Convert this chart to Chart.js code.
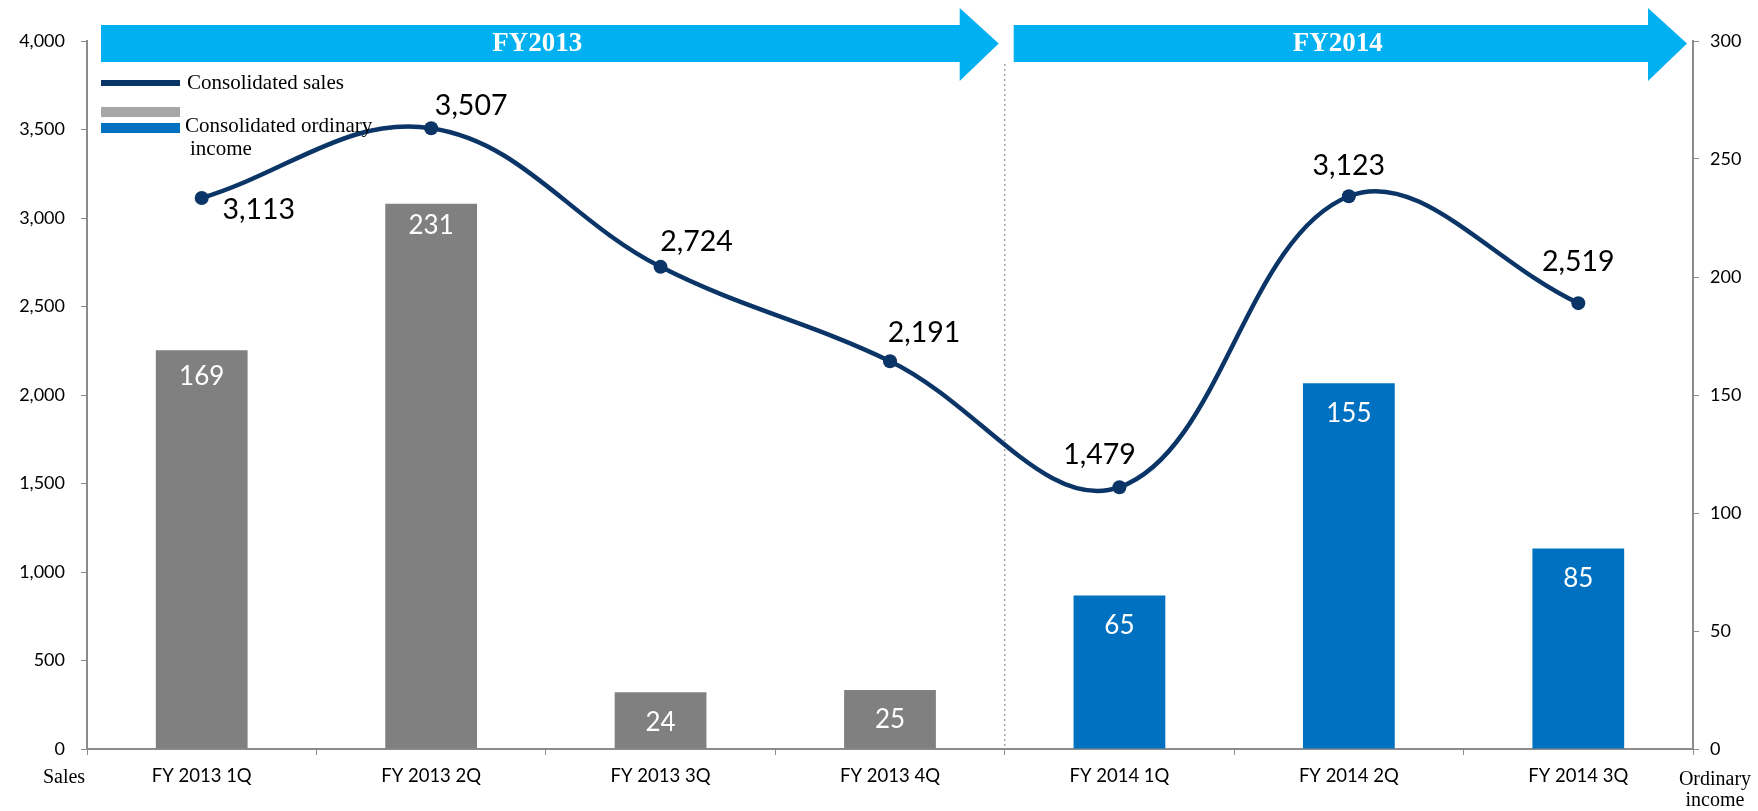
<!DOCTYPE html>
<html>
<head>
<meta charset="utf-8">
<script src="https://cdn.jsdelivr.net/npm/chart.js@4.4.1/dist/chart.umd.min.js"></script>
<style>
  html, body { margin: 0; padding: 0; background: #fff; }
  #wrap { width: 1758px; height: 811px; position: relative; }
</style>
</head>
<body>
<div id="wrap"><canvas id="chart"></canvas></div>
<script>
const quarters = ['FY 2013 1Q', 'FY 2013 2Q', 'FY 2013 3Q', 'FY 2013 4Q', 'FY 2014 1Q', 'FY 2014 2Q', 'FY 2014 3Q']
const sales = [3113, 3507, 2724, 2191, 1479, 3123, 2519]
const ordinaryIncome = [169, 231, 24, 25, 65, 155, 85]
const periods = ['FY2013', 'FY2014']
const salesTicks = [0, 500, 1000, 1500, 2000, 2500, 3000, 3500, 4000]
const incomeTicks = [0, 50, 100, 150, 200, 250, 300]

const NAVY = '#0B3567'
const GRAY = '#808080'
const BLUE = '#0070C0'
const ARROW = '#00B0F0'
const AXIS = '#8C8C8C'
const SANS = 'Lato, "Open Sans", sans-serif'
const SERIF = '"Liberation Serif", "Times New Roman", serif'

// bars before FY2014 are gray, the rest blue
const barColors = quarters.map(q => (q.indexOf('2013') >= 0 ? GRAY : BLUE))

// label offsets for the sales points (dx, dy)
const lineLabelOffsets = [[57, 12], [40, -22], [36, -25], [34, -28], [-20, -32], [0, -30], [0, -41]]
// vertical offset of the white labels below each bar top
const barLabelOffsets = [26, 22, 30, 30, 30, 30, 30]

const decorations = {
  id: 'decorations',
  beforeDatasetsDraw(chart) {
    const { ctx, chartArea, scales } = chart
    // dotted divider between the two fiscal years
    const x = (scales.x.getPixelForValue(3) + scales.x.getPixelForValue(4)) / 2
    ctx.save()
    ctx.strokeStyle = '#A6A6A6'
    ctx.lineWidth = 1.5
    ctx.setLineDash([2, 3])
    ctx.beginPath()
    ctx.moveTo(x, 64)
    ctx.lineTo(x, chartArea.bottom)
    ctx.stroke()
    ctx.restore()
  },
  afterDatasetsDraw(chart) {
    const { ctx } = chart
    ctx.save()
    // bar value labels
    const barMeta = chart.getDatasetMeta(1)
    ctx.fillStyle = '#fff'
    ctx.font = '26px ' + SANS
    ctx.textAlign = 'center'
    ctx.textBaseline = 'middle'
    barMeta.data.forEach((bar, i) => {
      ctx.fillText(String(ordinaryIncome[i]), bar.x, bar.y + barLabelOffsets[i])
    })
    // line value labels
    const lineMeta = chart.getDatasetMeta(0)
    ctx.fillStyle = '#000'
    ctx.font = '28.5px ' + SANS
    lineMeta.data.forEach((pt, i) => {
      const [dx, dy] = lineLabelOffsets[i]
      ctx.fillText(sales[i].toLocaleString('en-US'), pt.x + dx, pt.y + dy)
    })
    ctx.restore()
  },
  afterDraw(chart) {
    const { ctx, chartArea, scales } = chart
    const mid = (scales.x.getPixelForValue(3) + scales.x.getPixelForValue(4)) / 2
    ctx.save()

    // fiscal year arrows
    const arrows = [
      { x0: chartArea.left + 14, tip: mid - 6 },
      { x0: mid + 9, tip: chartArea.right - 6 },
    ]
    arrows.forEach((a, i) => {
      const headLen = 39
      const top = 25, bot = 62, htop = 8, hbot = 81
      const cy = (top + bot) / 2
      ctx.fillStyle = ARROW
      ctx.beginPath()
      ctx.moveTo(a.x0, top)
      ctx.lineTo(a.tip - headLen, top)
      ctx.lineTo(a.tip - headLen, htop)
      ctx.lineTo(a.tip, cy)
      ctx.lineTo(a.tip - headLen, hbot)
      ctx.lineTo(a.tip - headLen, bot)
      ctx.lineTo(a.x0, bot)
      ctx.closePath()
      ctx.fill()
      ctx.fillStyle = '#fff'
      ctx.font = 'bold 27px ' + SERIF
      ctx.textAlign = 'center'
      ctx.textBaseline = 'middle'
      ctx.fillText(periods[i], (a.x0 + a.tip - headLen) / 2 + 7, cy + 1)
    })

    // legend
    const lx = chartArea.left + 14
    ctx.fillStyle = NAVY
    ctx.fillRect(lx, 80, 79, 6)
    ctx.fillStyle = '#A6A6A6'
    ctx.fillRect(lx, 107, 79, 10)
    ctx.fillStyle = BLUE
    ctx.fillRect(lx, 123, 79, 10)
    ctx.fillStyle = '#000'
    ctx.font = '21px ' + SERIF
    ctx.textAlign = 'left'
    ctx.textBaseline = 'middle'
    ctx.fillText('Consolidated sales', lx + 86, 83)
    ctx.fillText('Consolidated ordinary', lx + 84, 126)
    ctx.fillText('income', lx + 89, 149)

    // axis titles
    ctx.font = '20px ' + SERIF
    ctx.textAlign = 'center'
    ctx.fillText('Sales', 64, 778)
    ctx.fillText('Ordinary', 1715, 780)
    ctx.fillText('income', 1715, 801)
    ctx.restore()
  },
}

new Chart(document.getElementById('chart'), {
  data: {
    labels: quarters,
    datasets: [
      {
        type: 'line',
        label: 'Consolidated sales',
        data: sales,
        yAxisID: 'y',
        borderColor: NAVY,
        backgroundColor: NAVY,
        borderWidth: 4.5,
        pointRadius: 7,
        pointBackgroundColor: NAVY,
        pointBorderWidth: 0,
        tension: 0.38,
        order: 0,
      },
      {
        type: 'bar',
        label: 'Consolidated ordinary income',
        data: ordinaryIncome,
        yAxisID: 'y1',
        backgroundColor: barColors,
        barPercentage: 0.8,
        categoryPercentage: 0.5,
        order: 1,
      },
    ],
  },
  options: {
    responsive: true,
    maintainAspectRatio: false,
    animation: false,
    layout: { padding: { top: 41, left: 0, right: 0, bottom: 0 } },
    plugins: {
      legend: { display: false },
      tooltip: { enabled: false },
    },
    scales: {
      x: {
        offset: true,
        grid: {
          display: true,
          drawOnChartArea: false,
          offset: true,
          tickLength: 6,
          color: AXIS,
        },
        border: { color: AXIS, width: 2 },
        ticks: { color: '#000', font: { family: SANS, size: 18.5 }, padding: 10, maxRotation: 0 },
        afterFit(scale) { scale.height = 62 },
      },
      y: {
        position: 'left',
        min: 0,
        max: 4000,
        afterBuildTicks(scale) { scale.ticks = salesTicks.map(v => ({ value: v })) },
        grid: { drawOnChartArea: false, tickLength: 6, color: AXIS },
        border: { color: AXIS, width: 2 },
        ticks: {
          color: '#000',
          font: { family: SANS, size: 18 },
          padding: 16,
          callback: v => v.toLocaleString('en-US'),
        },
        afterFit(scale) { scale.width = 87 },
      },
      y1: {
        position: 'right',
        min: 0,
        max: 300,
        afterBuildTicks(scale) { scale.ticks = incomeTicks.map(v => ({ value: v })) },
        grid: { drawOnChartArea: false, tickLength: 6, color: AXIS },
        border: { color: AXIS, width: 2 },
        ticks: { color: '#000', font: { family: SANS, size: 18 }, padding: 11 },
        afterFit(scale) { scale.width = 65 },
      },
    },
  },
  plugins: [decorations],
})
</script>
</body>
</html>
